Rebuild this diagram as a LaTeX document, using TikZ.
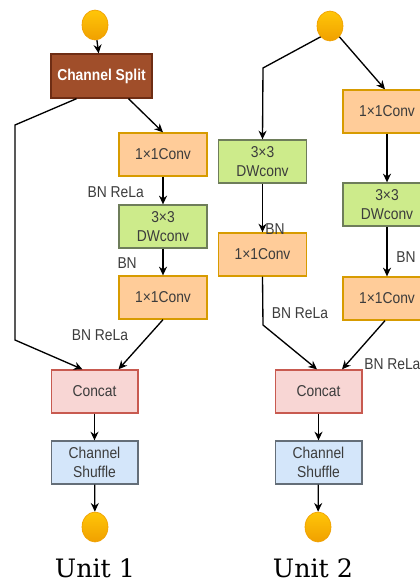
\documentclass[tikz,border=0pt]{standalone}
\usepackage{fontspec}
\setsansfont[FakeStretch=0.88]{Liberation Sans}
\newfontfamily\unitfont{DejaVu Serif}
\usetikzlibrary{arrows.meta,calc,shapes.geometric}

\definecolor{dotfill}{RGB}{255,184,10}
\definecolor{dotdark}{RGB}{240,160,0}
\definecolor{splitfill}{RGB}{160,78,42}
\definecolor{splitline}{RGB}{110,45,20}
\definecolor{convfill}{RGB}{255,204,153}
\definecolor{convline}{RGB}{215,155,0}
\definecolor{dwfill}{RGB}{205,235,139}
\definecolor{dwline}{RGB}{110,125,90}
\definecolor{catfill}{RGB}{248,214,212}
\definecolor{catline}{RGB}{200,90,80}
\definecolor{shuffill}{RGB}{212,230,250}
\definecolor{shufline}{RGB}{100,110,120}
\definecolor{txt}{RGB}{60,60,60}

\tikzset{
  box/.style={draw, line width=1pt, minimum width=66pt, minimum height=32.25pt, inner sep=0pt,
    align=center, text=txt, font=\sffamily\fontsize{11.8}{14.5}\selectfont},
  conv/.style={box, fill=convfill, draw=convline},
  dwconv/.style={box, fill=dwfill, draw=dwline},
  concat/.style={box, fill=catfill, draw=catline, minimum width=65pt},
  shuffle/.style={box, fill=shuffill, draw=shufline, minimum width=65pt},
  split/.style={box, fill=splitfill, draw=splitline, minimum width=75.75pt, minimum height=33pt,
    text=white, font=\sffamily\bfseries\fontsize{11.8}{12}\selectfont},
  dot/.style={ellipse, minimum width=19.5pt, minimum height=22.5pt, inner sep=0pt,
    top color=dotfill!80!yellow, bottom color=dotdark, draw=dotdark, line width=0.5pt},
  arr/.style={line width=1pt, -{Stealth[length=6.5pt,width=6pt]}},
  lbl/.style={text=txt, font=\sffamily\fontsize{11.8}{12}\selectfont, inner sep=0pt},
  unit/.style={font=\unitfont\fontsize{19}{22}\selectfont}
}

\begin{document}
\begin{tikzpicture}[x=0.75pt,y=-0.75pt]
	\clip (0,0) rectangle (420,583);
	
	% Unit 1
	\node[dot] (in1) at (95,25) {};
	\node[split] (split1) at (101.5,76) {Channel Split};
	\node[conv] (conv1a) at (163,154.5) {1×1Conv};
	\node[dwconv] (dw1) at (163,226.5) {3×3\\DWconv};
	\node[conv] (conv1b) at (163,297.5) {1×1Conv};
	\node[concat] (cat1) at (94.5,391.5) {Concat};
	\node[shuffle] (shuf1) at (94.5,462.5) {Channel\\Shuffle};
	\node[dot] (out1) at (95,527) {};
	\node[unit] (unit1) at (95,568) {Unit 1};
	
	\coordinate (bend1a) at (15,125);
	\coordinate (bend1b) at (15,340);
	
	\draw[arr] (in1) -- (split1);
	\draw[arr] ($(split1.south)+(-25,0)$) -- (bend1a) -- (bend1b) -- ($(cat1.north)+(-12,0)$);
	\draw[arr] ($(split1.south)+(27,0)$) -- (conv1a.north);
	\draw[arr] (conv1a) -- (dw1);
	\draw[arr] (dw1) -- (conv1b);
	\draw[arr] (conv1b.south) -- ($(cat1.north)+(24,0)$);
	\draw[arr] (cat1) -- (shuf1);
	\draw[arr] (shuf1) -- (out1);
	
	\node[lbl, anchor=east] (bnr1a) at (144,192) {BN ReLa};
	\node[lbl, anchor=east] (bn1) at (137,263) {BN};
	\node[lbl] (bnr1b) at (100,335) {BN ReLa};
	
	% Unit 2
	\node[dot] (in2) at (330,26) {};
	\node[dwconv] (dw2a) at (262.5,161.5) {3×3\\DWconv};
	\node[conv] (conv2a) at (262.5,254.5) {1×1Conv};
	\node[conv] (conv2b) at (387,111.5) {1×1Conv};
	\node[dwconv] (dw2b) at (387,204.5) {3×3\\DWconv};
	\node[conv] (conv2c) at (387,298.5) {1×1Conv};
	\node[concat] (cat2) at (318.5,391.5) {Concat};
	\node[shuffle] (shuf2) at (318.5,462.5) {Channel\\Shuffle};
	\node[dot] (out2) at (318,527) {};
	\node[unit] (unit2) at (313,568) {Unit 2};
	
	\coordinate (bend2a) at (263,68);
	\coordinate (bend2b) at (263,325);
	
	\draw[arr] (in2.south west) -- (bend2a) -- (dw2a.north);
	\draw[arr] (dw2a) -- (conv2a);
	\draw[arr] (conv2a.south) -- (bend2b) -- ($(cat2.north)+(-1.5,0)$);
	\draw[arr] (in2.south east) -- ($(conv2b.north)+(-2,0)$);
	\draw[arr] (conv2b) -- (dw2b);
	\draw[arr] (dw2b) -- (conv2c);
	\draw[arr] ($(conv2c.south)+(-2,0)$) -- ($(cat2.north)+(23.5,0)$);
	\draw[arr] (cat2) -- (shuf2);
	\draw[arr] (shuf2) -- (out2);
	
	\node[lbl, anchor=west] (bn2a) at (265,229) {BN};
	\node[lbl] (bnr2a) at (300,313) {BN ReLa};
	\node[lbl, anchor=west] (bn2b) at (396,257) {BN};
	\node[lbl, anchor=west] (bnr2b) at (364,364) {BN ReLa};
\end{tikzpicture}
\end{document}
